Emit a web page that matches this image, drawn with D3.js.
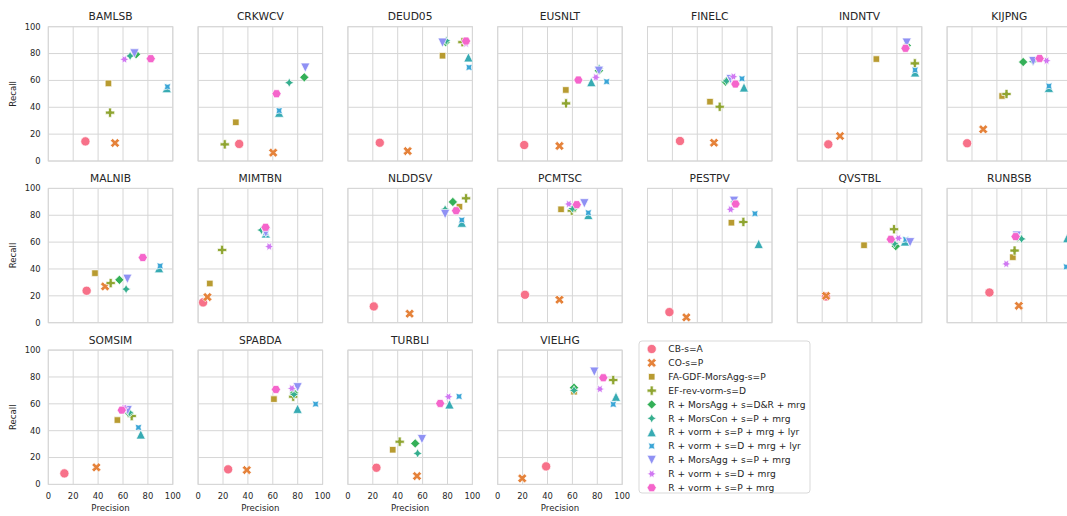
<!DOCTYPE html>
<html>
<head>
<meta charset="utf-8">
<script src="https://cdn.jsdelivr.net/npm/d3@7"></script>
<style>
  body { margin: 0; background: #ffffff; }
  svg { display: block; }
  text { font-family: "DejaVu Sans", sans-serif; fill: #262626; }
</style>
</head>
<body>
<svg id="chart" width="1067" height="516"></svg>
<script>
// Datasets shown as facets, in reading order
const datasets = ["BAMLSB", "CRKWCV", "DEUD05", "EUSNLT", "FINELC", "INDNTV", "KIJPNG",
                  "MALNIB", "MIMTBN", "NLDDSV", "PCMTSC", "PESTPV", "QVSTBL", "RUNBSB",
                  "SOMSIM", "SPABDA", "TURBLI", "VIELHG"];

// Methods (hue + style), in drawing / legend order
const methods = ["CB-s=A", "CO-s=P", "FA-GDF-MorsAgg-s=P", "EF-rev-vorm-s=D",
                 "R + MorsAgg + s=D&R + mrg", "R + MorsCon + s=P + mrg",
                 "R + vorm + s=P + mrg + lyr", "R + vorm + s=D + mrg + lyr",
                 "R + MorsAgg + s=P + mrg", "R + vorm + s=D + mrg", "R + vorm + s=P + mrg"];

const methodColors = ["#f77189", "#e5823a", "#b89b31", "#8fa531", "#34b058", "#35ae8e",
                      "#37abb3", "#3aa5d6", "#8f91f4", "#d078f2", "#f565cb"];

const methodMarkers = ["circle", "x", "square", "plus", "diamond", "star4",
                       "triUp", "star4x", "triDown", "star6", "hexagon"];

const xTicks = [0, 20, 40, 60, 80, 100];
const yTicks = [0, 20, 40, 60, 80, 100];

// Precision per dataset (rows) and method (columns, same order as `methods`)
const precision = [
  [29.8, 53.6, 48.3, 49.6, 70.5, 65.7, 95.2, 95.7, 69.2, 61.1, 82.3], // BAMLSB
  [33.0, 60.3, 30.3, 21.4, 85.3, 73.2, 65.1, 65.1, 86.1, 63.0, 63.0], // CRKWCV
  [25.6, 48.0, 76.0, 92.0, 78.5, 79.0, 96.8, 97.3, 76.0, 94.9, 94.9], // DEUD05
  [21.3, 49.6, 54.7, 54.9, 81.3, 81.5, 75.2, 87.5, 81.3, 78.9, 64.8], // EUSNLT
  [26.1, 53.4, 50.2, 58.0, 62.8, 63.5, 77.5, 75.9, 66.8, 69.0, 70.6], // FINELC
  [24.9, 34.3, 63.5, 94.4, 87.9, 87.5, 94.6, 94.6, 87.9, 87.0, 86.9], // INDNTV
  [16.1, 29.0, 44.2, 47.7, 61.1, 69.0, 81.8, 81.8, 69.2, 79.9, 74.3], // KIJPNG
  [30.8, 45.6, 37.5, 50.1, 57.1, 62.5, 89.0, 89.8, 63.5, 75.5, 75.9], // MALNIB
  [ 4.0,  7.5,  9.4, 19.3, 54.0, 50.9, 54.4, 54.4, 54.4, 57.1, 54.2], // MIMTBN
  [20.8, 49.6, 89.6, 94.9, 84.3, 78.1, 91.5, 91.5, 78.1, 87.0, 86.9], // NLDDSV
  [21.9, 49.6, 50.9, 59.5, 62.0, 60.0, 72.8, 72.8, 69.6, 57.1, 63.5], // PCMTSC
  [17.6, 31.2, 67.4, 77.0, 70.0, 70.0, 89.3, 86.3, 69.5, 66.8, 70.8], // PESTPV
  [23.0, 23.1, 53.6, 77.7, 79.1, 78.0, 86.5, 87.1, 90.6, 81.2, 75.1], // QVSTBL
  [34.0, 57.6, 52.8, 54.2, 56.5, 59.8, 96.5, 95.8, 56.0, 47.5, 55.0], // RUNBSB
  [12.9, 38.6, 55.5, 67.0, 65.0, 65.1, 74.3, 72.4, 63.8, 60.9, 59.0], // SOMSIM
  [24.1, 39.1, 60.9, 76.4, 77.0, 77.0, 79.9, 94.4, 79.9, 75.3, 62.5], // SPABDA
  [22.9, 55.5, 36.0, 41.6, 54.1, 56.0, 81.6, 89.3, 59.5, 80.8, 74.1], // TURBLI
  [38.9, 19.7, 61.3, 92.8, 61.3, 61.3, 95.0, 92.8, 77.6, 82.1, 84.8]  // VIELHG
];

// Recall per dataset (rows) and method (columns)
const recall = [
  [14.6, 13.4, 57.8, 36.0, 79.5, 78.2, 54.3, 55.3, 80.1, 75.7, 76.2], // BAMLSB
  [12.7,  6.2, 28.8, 12.4, 62.3, 58.3, 36.0, 37.5, 69.5, 50.0, 50.1], // CRKWCV
  [13.6,  7.4, 78.4, 88.5, 88.5, 89.6, 77.2, 69.7, 88.1, 87.5, 89.3], // DEUD05
  [11.9, 11.2, 52.9, 42.9, 67.2, 69.0, 58.8, 59.1, 67.2, 62.3, 60.3], // EUSNLT
  [14.9, 13.6, 44.2, 40.4, 59.0, 59.6, 54.8, 61.3, 61.0, 62.8, 57.3], // FINELC
  [12.4, 18.6, 75.9, 72.7, 86.0, 85.0, 66.0, 67.7, 88.1, 84.0, 83.9], // INDNTV
  [13.2, 23.6, 48.4, 49.9, 73.7, 74.0, 54.5, 55.8, 74.4, 74.7, 76.4], // KIJPNG
  [23.8, 27.0, 36.9, 29.5, 31.9, 25.0, 40.6, 42.3, 32.7, 48.5, 48.5], // MALNIB
  [15.1, 19.1, 29.2, 54.2, 70.0, 69.0, 66.5, 67.0, 67.0, 56.7, 71.0], // MIMTBN
  [12.1,  6.7, 86.4, 92.6, 89.9, 84.4, 74.5, 76.5, 80.9, 83.0, 83.4], // NLDDSV
  [20.8, 17.1, 84.4, 83.4, 86.0, 85.0, 80.2, 81.9, 88.9, 88.4, 87.9], // PCMTSC
  [ 7.9,  4.0, 74.5, 75.0, 90.0, 90.0, 58.7, 81.2, 90.8, 84.4, 88.4], // PESTPV
  [19.5, 20.0, 57.7, 69.6, 57.0, 59.0, 60.5, 61.9, 59.9, 62.9, 62.1], // QVSTBL
  [22.5, 12.6, 48.8, 53.7, 63.5, 62.4, 63.0, 41.6, 64.8, 43.8, 64.1], // RUNBSB
  [ 8.2, 12.7, 47.9, 50.9, 53.0, 53.6, 37.2, 42.4, 55.3, 57.0, 55.3], // SOMSIM
  [11.2, 10.7, 63.5, 65.3, 68.0, 67.0, 56.3, 59.8, 72.3, 71.5, 70.7], // SPABDA
  [12.4,  6.2, 25.8, 31.8, 30.5, 23.1, 59.6, 65.5, 33.7, 65.3, 60.3], // TURBLI
  [13.4,  4.5, 69.0, 77.7, 72.0, 70.0, 65.3, 59.6, 83.9, 71.0, 79.4]  // VIELHG
];

// ---- layout ----
const svg = d3.select("#chart");
const nCols = 7;
const panelW = 124.5, panelH = 134.3;
const left0 = 48.3, colStep = 149.8;
const top0 = 26.7, rowStep = 161.7;
const markerSize = 9.2;
const gridColor = "#d6d6d6";

// ---- marker shapes (unit size, y up), scaled to a path string ----
function regularPolygon(n, rotDeg) {
  const pts = [];
  for (let i = 0; i < n; i++) {
    const t = 2 * Math.PI / n * i + Math.PI / 2 + rotDeg * Math.PI / 180;
    pts.push([0.5 * Math.cos(t), 0.5 * Math.sin(t)]);
  }
  return pts;
}
function regularStar(n, rotDeg, inner = 0.5) {
  const pts = [];
  for (let i = 0; i < 2 * n; i++) {
    const t = 2 * Math.PI / (2 * n) * i + Math.PI / 2 + rotDeg * Math.PI / 180;
    const r = (i % 2 === 0 ? 1 : inner) * 0.5;
    pts.push([r * Math.cos(t), r * Math.sin(t)]);
  }
  return pts;
}
const shapePoints = {
  x: [[-1,-2],[0,-1],[1,-2],[2,-1],[1,0],[2,1],[1,2],[0,1],[-1,2],[-2,1],[-1,0],[-2,-1]].map(p => [p[0] / 4, p[1] / 4]),
  plus: [[-1,-3],[1,-3],[1,-1],[3,-1],[3,1],[1,1],[1,3],[-1,3],[-1,1],[-3,1],[-3,-1],[-1,-1]].map(p => [p[0] / 6, p[1] / 6]),
  square: regularPolygon(4, 45),
  diamond: regularPolygon(4, 0),
  star4: regularStar(4, 0),
  star4x: regularStar(4, 45),
  triUp: [[0, 0.5], [-0.5, -0.5], [0.5, -0.5]],
  triDown: [[0, -0.5], [-0.5, 0.5], [0.5, 0.5]],
  star6: regularStar(6, 30),
  hexagon: regularPolygon(6, 30)
};
function markerPath(kind, size) {
  if (kind === "circle") {
    const r = size / 2;
    return `M${r},0A${r},${r} 0 1,1 ${-r},0A${r},${r} 0 1,1 ${r},0Z`;
  }
  const pts = shapePoints[kind];
  return "M" + pts.map(p => `${(p[0] * size).toFixed(3)},${(-p[1] * size).toFixed(3)}`).join("L") + "Z";
}

const x = d3.scaleLinear().domain([0, 100]).range([0, panelW]);
const y = d3.scaleLinear().domain([0, 100]).range([panelH, 0]);

const defs = svg.append("defs");
defs.append("clipPath").attr("id", "panel-clip")
  .append("rect").attr("x", 0).attr("y", 0).attr("width", panelW).attr("height", panelH);

const lastRowStart = 14;

datasets.forEach((name, di) => {
  const col = di % nCols, row = Math.floor(di / nCols);
  const gx = left0 + col * colStep, gy = top0 + row * rowStep;
  const g = svg.append("g").attr("transform", `translate(${gx},${gy})`);

  // grid lines
  g.append("g").selectAll("line.v").data(xTicks).join("line")
    .attr("x1", d => x(d)).attr("x2", d => x(d)).attr("y1", 0).attr("y2", panelH)
    .attr("stroke", gridColor).attr("stroke-width", 1);
  g.append("g").selectAll("line.h").data(yTicks).join("line")
    .attr("y1", d => y(d)).attr("y2", d => y(d)).attr("x1", 0).attr("x2", panelW)
    .attr("stroke", gridColor).attr("stroke-width", 1);
  // frame
  g.append("rect").attr("width", panelW).attr("height", panelH)
    .attr("fill", "none").attr("stroke", gridColor).attr("stroke-width", 1);

  // title
  g.append("text").attr("x", panelW / 2).attr("y", -6.3)
    .attr("text-anchor", "middle").attr("font-size", 10.7).text(name);

  // y tick labels + label on first column
  if (col === 0) {
    g.append("g").selectAll("text").data(yTicks).join("text")
      .attr("x", -7.6).attr("y", d => y(d)).attr("dy", "0.35em")
      .attr("text-anchor", "end").attr("font-size", 8.4).text(d => d);
    g.append("text")
      .attr("transform", `translate(${-32.4},${panelH / 2}) rotate(-90)`)
      .attr("text-anchor", "middle").attr("font-size", 8.6).text("Recall");
  }
  // x tick labels + label on bottom row
  if (di >= lastRowStart) {
    g.append("g").selectAll("text").data(xTicks).join("text")
      .attr("x", d => x(d)).attr("y", panelH + 14.2)
      .attr("text-anchor", "middle").attr("font-size", 8.4).text(d => d);
    g.append("text").attr("x", panelW / 2).attr("y", panelH + 26.2)
      .attr("text-anchor", "middle").attr("font-size", 8.6).text("Precision");
  }

  // points
  const pts = methods.map((m, mi) => ({ mi, p: precision[di][mi], r: recall[di][mi] }));
  g.append("g").attr("clip-path", "url(#panel-clip)")
    .selectAll("path").data(pts).join("path")
    .attr("transform", d => `translate(${x(d.p)},${y(d.r)})`)
    .attr("d", d => markerPath(methodMarkers[d.mi], markerSize))
    .attr("fill", d => methodColors[d.mi])
    .attr("stroke", "#ffffff").attr("stroke-width", 0.7)
    .attr("stroke-linejoin", "miter");
});

// ---- legend ----
const lg = svg.append("g").attr("transform", "translate(639,341)");
lg.append("rect").attr("x", 0).attr("y", 0).attr("width", 171).attr("height", 152)
  .attr("rx", 3).attr("fill", "#ffffff").attr("stroke", "#d9d9d9").attr("stroke-width", 1);
const rowsG = lg.selectAll("g.item").data(methods).join("g")
  .attr("transform", (d, i) => `translate(0,${8 + i * 13.87})`);
rowsG.append("path")
  .attr("transform", "translate(12.7,0)")
  .attr("d", (d, i) => markerPath(methodMarkers[i], markerSize))
  .attr("fill", (d, i) => methodColors[i])
  .attr("stroke", "#ffffff").attr("stroke-width", 0.7);
rowsG.append("text").attr("x", 29.3).attr("dy", "0.35em")
  .attr("font-size", 9.1).text(d => d);
</script>
</body>
</html>
